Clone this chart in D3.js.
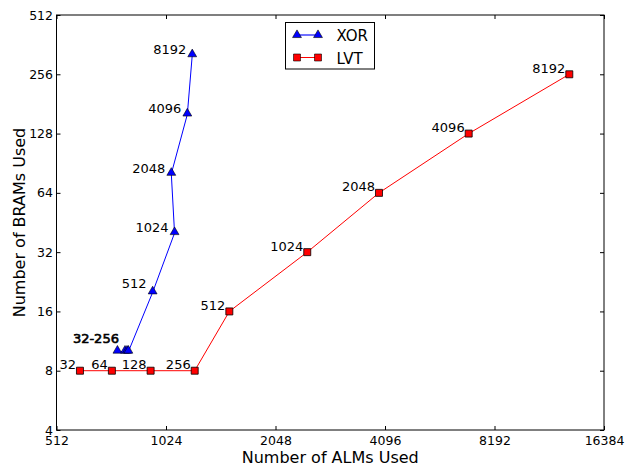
<!DOCTYPE html>
<html>
<head>
<meta charset="utf-8">
<script src="https://cdn.jsdelivr.net/npm/d3@7"></script>
<style>
  html, body { margin: 0; padding: 0; background: #fff; }
  svg { display: block; font-family: "DejaVu Sans", sans-serif; }
</style>
</head>
<body>
<svg id="chart" width="628" height="466"></svg>
<script>
// ALM / BRAM usage for the two multi-ported memory designs, per memory depth
const xorDepths = ["32-256", "", "", "", "512", "1024", "2048", "4096", "8192"];
const xorALMs   = [753, 790, 800, 807, 941, 1081, 1059, 1172, 1209];
const xorBRAMs  = [10, 10, 10, 10, 20, 40, 80, 160, 320];

const lvtDepths = ["32", "64", "128", "256", "512", "1024", "2048", "4096", "8192"];
const lvtALMs   = [594, 727, 929, 1228, 1529, 2504, 3943, 6957, 13153];
const lvtBRAMs  = [8, 8, 8, 8, 16, 32, 64, 128, 256];

const xTicks = [512, 1024, 2048, 4096, 8192, 16384];
const yTicks = [4, 8, 16, 32, 64, 128, 256, 512];

const seriesNames = ["XOR", "LVT"];

const svg = d3.select("#chart");
const L = 56.5, R = 604, T = 15, B = 430;

const x = d3.scaleLog().base(2).domain([512, 16384]).range([L, R]);
const y = d3.scaleLog().base(2).domain([4, 512]).range([B, T]);

// axes: ticks pointing inward on all four sides
const tickLen = 4;
const axBottom = d3.axisBottom(x).tickValues(xTicks).tickFormat(d3.format("d"))
  .tickSizeInner(-tickLen).tickSizeOuter(0).tickPadding(6);
const axLeft = d3.axisLeft(y).tickValues(yTicks).tickFormat(d3.format("d"))
  .tickSizeInner(-tickLen).tickSizeOuter(0).tickPadding(3.5);
const axTop = d3.axisTop(x).tickValues(xTicks).tickFormat("")
  .tickSizeInner(-tickLen).tickSizeOuter(0);
const axRight = d3.axisRight(y).tickValues(yTicks).tickFormat("")
  .tickSizeInner(-tickLen).tickSizeOuter(0);

function styleAxis(g) {
  g.select(".domain").remove();
  g.selectAll(".tick line").attr("stroke", "#000").attr("stroke-width", 1);
  g.selectAll(".tick text").attr("fill", "#000")
    .style("font-family", "DejaVu Sans").style("font-size", "12.5px");
}

svg.append("g").attr("transform", `translate(0,${B})`).call(axBottom).call(styleAxis);
svg.append("g").attr("transform", `translate(${L},0)`).call(axLeft).call(styleAxis);
svg.append("g").attr("transform", `translate(0,${T})`).call(axTop).call(styleAxis);
svg.append("g").attr("transform", `translate(${R},0)`).call(axRight).call(styleAxis);

// frame
svg.append("rect")
  .attr("x", L).attr("y", T).attr("width", R - L).attr("height", B - T)
  .attr("fill", "none").attr("stroke", "#000").attr("stroke-width", 1);

// axis titles
svg.append("text")
  .attr("x", (L + R) / 2).attr("y", 462.5)
  .attr("text-anchor", "middle")
  .style("font-size", "16px").attr("fill", "#000")
  .text("Number of ALMs Used");
svg.append("text")
  .attr("transform", `translate(25,${(T + B) / 2}) rotate(-90)`)
  .attr("text-anchor", "middle")
  .style("font-size", "16px").attr("fill", "#000")
  .text("Number of BRAMs Used");

const line = d3.line().x(d => x(d[0])).y(d => y(d[1]));
const triangle = d3.symbol().type(d3.symbolTriangle).size(34);
const square = d3.symbol().type(d3.symbolSquare).size(49);

const xorPts = xorALMs.map((a, i) => [a, xorBRAMs[i], xorDepths[i]]);
const lvtPts = lvtALMs.map((a, i) => [a, lvtBRAMs[i], lvtDepths[i]]);

// LVT series
svg.append("path").datum(lvtPts).attr("d", line)
  .attr("fill", "none").attr("stroke", "#ff0000").attr("stroke-width", 1);
svg.append("g").selectAll("path").data(lvtPts).join("path")
  .attr("d", square)
  .attr("transform", d => `translate(${x(d[0])},${y(d[1])})`)
  .attr("fill", "#ff0000").attr("stroke", "#000").attr("stroke-width", 0.8);
svg.append("g").selectAll("text").data(lvtPts).join("text")
  .attr("x", d => x(d[0]) - 4).attr("y", d => y(d[1]) - 1.5)
  .attr("text-anchor", "end").style("font-size", "13px").attr("fill", "#000")
  .text(d => d[2]);

// XOR series
svg.append("path").datum(xorPts).attr("d", line)
  .attr("fill", "none").attr("stroke", "#0000ff").attr("stroke-width", 1);
svg.append("g").selectAll("path").data(xorPts).join("path")
  .attr("d", triangle)
  .attr("transform", d => `translate(${x(d[0])},${y(d[1]) - 1})`)
  .attr("fill", "#0000ff").attr("stroke", "#000").attr("stroke-width", 0.6);
svg.append("g").selectAll("text").data(xorPts.filter(d => d[2] !== "")).join("text")
  .attr("x", (d, i) => i === 0 ? x(d[0]) + 1.5 : x(d[0]) - 6)
  .attr("y", (d, i) => i === 0 ? y(d[1]) - 8.5 : (i === 1 ? y(d[1]) - 4 : y(d[1]) - 1))
  .attr("text-anchor", "end").style("font-size", "13px").attr("fill", "#000")
  .attr("stroke", (d, i) => i === 0 ? "#000" : "none")
  .attr("stroke-width", (d, i) => i === 0 ? 0.6 : 0)
  .text(d => d[2]);

// legend
const lg = svg.append("g");
lg.append("rect").attr("x", 285.5).attr("y", 22.5).attr("width", 89).attr("height", 46.5)
  .attr("fill", "#fff").attr("stroke", "#000").attr("stroke-width", 1);
const rows = [
  { name: seriesNames[0], color: "#0000ff", sym: triangle, ly: 35, lineColor: "#6f6fff", lw: 2 },
  { name: seriesNames[1], color: "#ff0000", sym: square, ly: 57.5, lineColor: "#ff0000", lw: 1 }
];
rows.forEach(r => {
  lg.append("line").attr("x1", 297).attr("x2", 318).attr("y1", r.ly).attr("y2", r.ly)
    .attr("stroke", r.lineColor).attr("stroke-width", r.lw);
  [297, 318].forEach(px => {
    lg.append("path").attr("d", r.sym)
      .attr("transform", `translate(${px},${r.ly})`)
      .attr("fill", r.color).attr("stroke", "#000").attr("stroke-width", 0.6);
  });
  lg.append("text").attr("x", 336.5).attr("y", r.ly + 6)
    .style("font-size", "15px").attr("fill", "#000").text(r.name);
});
</script>
</body>
</html>
